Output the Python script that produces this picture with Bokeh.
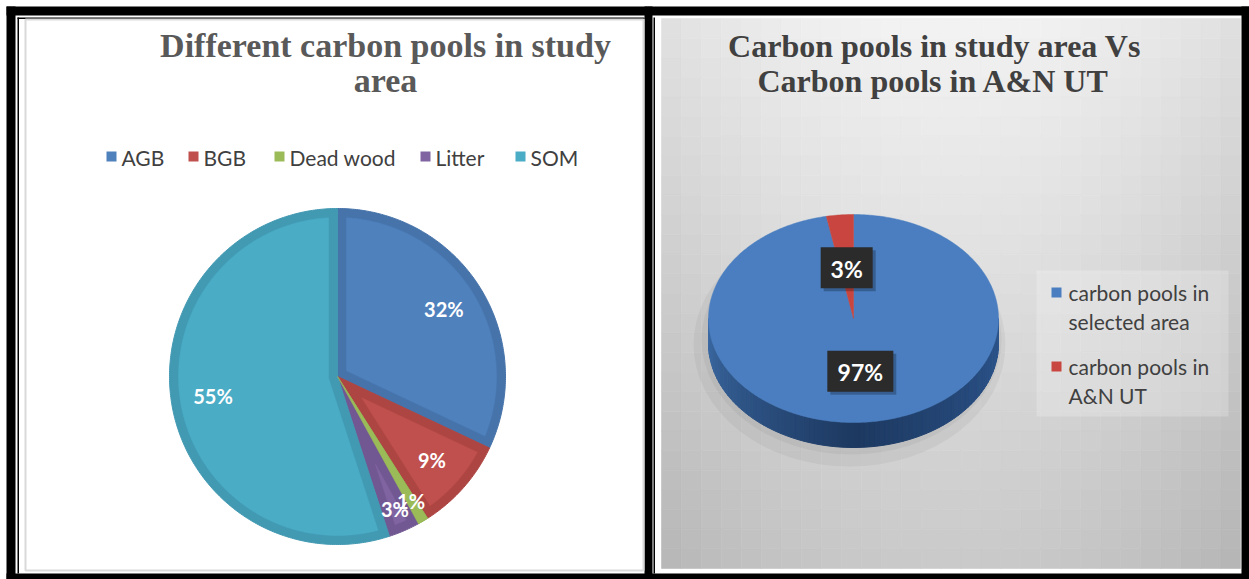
import numpy as np
from bokeh.plotting import figure
from bokeh.models import Range1d, ColumnDataSource
from bokeh.embed import file_html
from bokeh.resources import INLINE
from bokeh.core.properties import value

# ---------------- data ----------------
left_title = ["Different carbon pools in study", "area"]
pool_names = ["AGB", "BGB", "Dead wood", "Litter", "SOM"]
pool_share = [32, 9, 1, 3, 55]
pool_labels = ["32%", "9%", "1%", "3%", "55%"]

right_title = ["Carbon pools in study area Vs", "Carbon pools in A&N UT"]
compare_names = ["carbon pools in\nselected area", "carbon pools in\nA&N UT"]
compare_share = [97, 3]
compare_labels = ["97%", "3%"]

# ---------------- styles ----------------
pool_fill = ["#4f81bd", "#c0504d", "#9bbb59", "#8064a2", "#4bacc6"]
pool_band = ["#4673aa", "#ad4542", "#8aa94c", "#725892", "#4299b2"]
cmp_fill = ["#4a7ec0", "#c8463f"]
cmp_side = [((45, 86, 142), (29, 57, 97), (60, 106, 164)),
            ((150, 50, 48), (110, 35, 33), (165, 60, 58))]

W, H = 1249, 579
p = figure(width=W, height=H, x_range=Range1d(0, W), y_range=Range1d(H, 0),
           output_backend="svg", toolbar_location=None, min_border=0,
           x_axis_type=None, y_axis_type=None, outline_line_color=None,
           background_fill_color="white", border_fill_color="white")
p.grid.visible = False

# ---------------- frames ----------------
blk = dict(fill_color="black", line_color=None)
p.quad(left=[6, 6, 6, 1241, 644], right=[W, 15, W, W, 652],
       top=[6, 6, 573, 6, 6], bottom=[15, H, H, H, H], **blk)
p.quad(left=[17, 17, 653], right=[18.5, 644, 654.5],
       top=[17, 17, 17], bottom=[573, 18.5, 573], **blk)
# left panel
p.quad(left=[25], right=[643], top=[19], bottom=[570],
       fill_color="white", line_color="#d9d9d9", line_width=2)

# right panel gradient background
xe = np.linspace(661, 1240, 30)
ye = np.linspace(18, 568, 29)
gl, gr, gt, gb, gc = [], [], [], [], []
for i in range(len(xe) - 1):
    for j in range(len(ye) - 1):
        xm = (xe[i] + xe[i + 1]) / 2
        ym = (ye[j] + ye[j + 1]) / 2
        u = (xm - 945) / 290.0
        t = (ym - 18) / 550.0
        g = int(round(243 - 20 * u * u - 42 * t))
        gl.append(xe[i]); gr.append(xe[i + 1]); gt.append(ye[j]); gb.append(ye[j + 1])
        gc.append("#%02x%02x%02x" % (g, g, g))
p.quad(left=gl, right=gr, top=gt, bottom=gb, fill_color=gc, line_color=gc, line_width=0.6)

# ---------------- left pie ----------------
cx, cy, r, band = 337.0, 376.0, 168.0, 9.0
fr = np.array(pool_share, dtype=float) / sum(pool_share)
ends = np.cumsum(fr) * 2 * np.pi
starts = ends - fr * 2 * np.pi

def arc(cx, cy, rx, ry, a0, a1, n):
    t = np.linspace(a0, a1, n)
    return list(cx + rx * np.sin(t)), list(cy - ry * np.cos(t))

oxs, oys, ixs, iys, icol = [], [], [], [], []
for k in range(len(pool_share)):
    a0, a1 = starts[k], ends[k]
    n = max(3, int((a1 - a0) * 80))
    ax, ay = arc(cx, cy, r, r, a0, a1, n)
    oxs.append([cx] + ax); oys.append([cy] + ay)
    h = (a1 - a0) / 2
    R = r - band
    dlt = np.arcsin(band / R)
    apex = band / np.sin(h)
    if a1 - a0 - 2 * dlt > 0 and apex < R * 0.9:
        bis = a0 + h
        px_ = cx + apex * np.sin(bis)
        py_ = cy - apex * np.cos(bis)
        bx, by = arc(cx, cy, R, R, a0 + dlt, a1 - dlt, n)
        ixs.append([px_] + bx); iys.append([py_] + by); icol.append(pool_fill[k])

p.patches(oxs, oys, fill_color=pool_band, line_color=pool_band, line_width=1)
# tiny slices show their own fill colour
small = [k for k in range(len(pool_share)) if fr[k] < 0.02]
if small:
    p.patches([oxs[k] for k in small], [oys[k] for k in small],
              fill_color=[pool_fill[k] for k in small], line_color=[pool_fill[k] for k in small],
              line_width=0.5)
p.patches(ixs, iys, fill_color=icol, line_color=icol, line_width=0.5)

lx, ly = [], []
for k in range(len(pool_share)):
    bis = (starts[k] + ends[k]) / 2
    f = 0.75 if fr[k] >= 0.05 else 0.86
    lx.append(cx + f * r * np.sin(bis)); ly.append(cy - f * r * np.cos(bis))
p.text(x=lx, y=ly, text=pool_labels, text_color="white", text_font=value("Lato"),
       text_font_style="bold", text_font_size="20px", text_align="center",
       text_baseline="middle")

# left title
p.text(x=[385, 385], y=[45, 80], text=left_title, text_color="#595959",
       text_font=value("Liberation Serif"), text_font_style="bold",
       text_font_size="34px", text_align="center", text_baseline="alphabetic")

# left legend
leg_x = [106, 188, 274, 420, 515]
p.quad(left=leg_x, right=[x + 10 for x in leg_x], top=[151] * 5, bottom=[161] * 5,
       fill_color=pool_fill, line_color=None)
p.text(x=[x + 15 for x in leg_x], y=[156.5] * 5, text=pool_names, text_color="#404040",
       text_font=value("Lato"), text_font_size="21px", text_align="left",
       text_baseline="middle")

# ---------------- right 3D pie ----------------
cx2, cy2, rx2, ry2, depth = 853.0, 318.0, 145.0, 104.0, 25.0
fr2 = np.array(compare_share, dtype=float) / sum(compare_share)
ends2 = np.cumsum(fr2) * 2 * np.pi
starts2 = ends2 - fr2 * 2 * np.pi

# soft shadow
p.ellipse(x=[cx2 - 4, cx2 - 2], y=[cy2 + 26, cy2 + 21], width=[2 * rx2 + 22, 2 * rx2 + 10],
          height=[2 * ry2 + 36, 2 * ry2 + 22], fill_color="black", fill_alpha=0.045, line_color=None)

def lerp(c1, c2, t):
    return tuple(int(round(c1[i] + (c2[i] - c1[i]) * t)) for i in range(3))

sxs, sys_, scol = [], [], []
nst = 90
edges = np.linspace(np.pi / 2, 3 * np.pi / 2, nst + 1)
for i in range(nst):
    a0, a1 = edges[i], edges[i + 1]
    am = (a0 + a1) / 2
    k = int(np.searchsorted(ends2, am))
    k = min(k, len(compare_share) - 1)
    cr, cb, cl = cmp_side[k]
    s = (am - np.pi / 2) / np.pi  # 0 right .. 1 left
    c = lerp(cr, cb, s / 0.5) if s < 0.5 else lerp(cb, cl, (s - 0.5) / 0.5)
    x0, y0 = cx2 + rx2 * np.sin(a0), cy2 - ry2 * np.cos(a0)
    x1, y1 = cx2 + rx2 * np.sin(a1), cy2 - ry2 * np.cos(a1)
    sxs.append([x0, x1, x1, x0]); sys_.append([y0, y1, y1 + depth, y0 + depth])
    scol.append("#%02x%02x%02x" % c)
p.patches(sxs, sys_, fill_color=scol, line_color=scol, line_width=1)

txs, tys = [], []
for k in range(len(compare_share)):
    n = max(4, int((ends2[k] - starts2[k]) * 80))
    ax, ay = arc(cx2, cy2, rx2, ry2, starts2[k], ends2[k], n)
    txs.append([cx2] + ax); tys.append([cy2] + ay)
p.patches(txs, tys, fill_color=cmp_fill, line_color=cmp_fill, line_width=0.5)

# data labels with dark boxes
bx, by, bw = [], [], []
for k in range(len(compare_share)):
    bis = (starts2[k] + ends2[k]) / 2
    bx.append(cx2 + 0.5 * rx2 * np.sin(bis)); by.append(cy2 - 0.5 * ry2 * np.cos(bis) + 1)
    bw.append(24 + 14 * len(compare_labels[k]))
p.rect(x=[x + 3 for x in bx], y=[y + 3 for y in by], width=bw, height=[41] * len(bx),
       fill_color="black", fill_alpha=0.25, line_color=None)
p.rect(x=bx, y=by, width=bw, height=[41] * len(bx), fill_color="#2b2b2b", line_color=None)
p.text(x=bx, y=[y + 1 for y in by], text=compare_labels, text_color="white",
       text_font=value("Lato"), text_font_style="bold", text_font_size="23px",
       text_align="center", text_baseline="middle")

# right title
p.text(x=[934, 933], y=[45, 80], text=right_title, text_color="#404040",
       text_font=value("Liberation Serif"), text_font_style="bold",
       text_font_size="32px", text_align="center", text_baseline="alphabetic")

# right legend
p.quad(left=[1036], right=[1228], top=[270], bottom=[416], fill_color="white",
       fill_alpha=0.22, line_color=None)
sq_y = [292, 366]
p.quad(left=[1051] * 2, right=[1061] * 2, top=[y - 5 for y in sq_y],
       bottom=[y + 5 for y in sq_y], fill_color=cmp_fill, line_color=None)
tx, ty, tt = [], [], []
for k, name in enumerate(compare_names):
    for j, line in enumerate(name.split("\n")):
        tx.append(1068); ty.append(sq_y[k] + 29 * j); tt.append(line)
p.text(x=tx, y=ty, text=tt, text_color="#404040", text_font=value("Lato"),
       text_font_size="21px", text_align="left", text_baseline="middle")

open("out.html", "w").write(file_html(p, INLINE))
